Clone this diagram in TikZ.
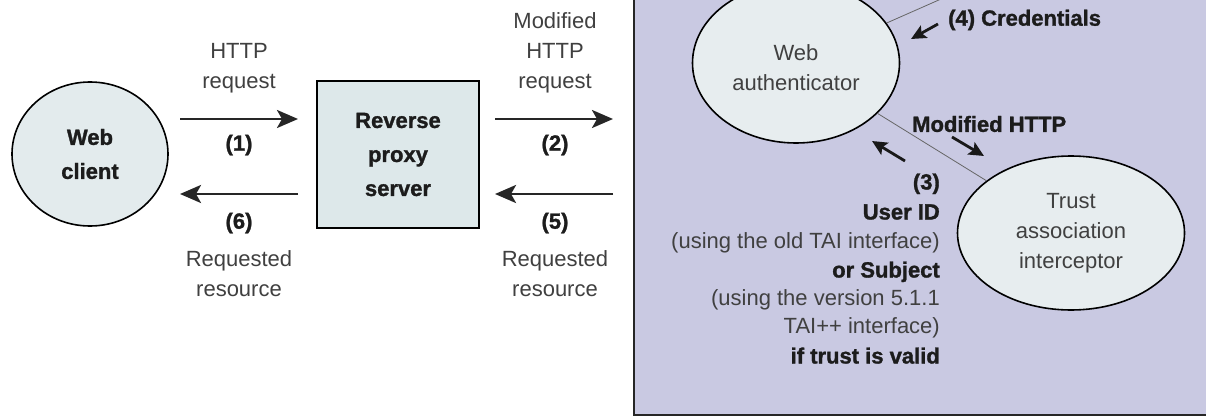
\documentclass[tikz,border=0pt]{standalone}
\usepackage{fontspec}
\setmainfont{Liberation Sans}[BoldFeatures={FakeBold=1.3}]
\usetikzlibrary{shapes.geometric,arrows.meta}
\definecolor{clientfill}{HTML}{E3EBED}
\definecolor{proxyfill}{HTML}{DDE8EA}
\definecolor{authfill}{HTML}{E7EDEF}
\definecolor{lav}{HTML}{C9C9E2}
\definecolor{textgray}{HTML}{404040}
\definecolor{textdark}{HTML}{1C1C1C}
\begin{document}
\begin{tikzpicture}[x=1pt,y=-1pt,
  txt/.style={font=\fontsize{22}{30}\selectfont, text=textgray, align=center, inner sep=0pt},
  btxt/.style={font=\fontsize{22}{34}\selectfont\bfseries, text=textdark, align=center, inner sep=0pt},
  rtxt/.style={font=\fontsize{22}{30}\selectfont, text=textgray, anchor=base east, inner sep=0pt},
  rbtxt/.style={font=\fontsize{22}{30}\selectfont\bfseries, text=textdark, anchor=base east, inner sep=0pt},
  bigarrow/.style={line width=2.8pt, draw=black!85, -{Stealth[length=21pt,width=18pt,inset=5pt]}},
  smallarrow/.style={line width=2.8pt, draw=black!90, -{Stealth[length=15pt,width=14pt,inset=3pt]}},
  thinline/.style={draw=black!60, line width=0.8pt},
  oval/.style={ellipse, draw=black, line width=1.6pt, inner sep=0pt}]
\useasboundingbox (0,0) rectangle (1206,417);
\fill[white] (0,0) rectangle (1206,417);
\begin{scope}
\clip (0,0) rectangle (1206,417);
\node[draw=black!85, fill=lav, line width=2pt, rectangle, minimum width=600pt, minimum height=460pt, anchor=south west, inner sep=0pt] (realm) at (633,415.5) {};
\end{scope}
% nodes
\node[oval, fill=clientfill, minimum width=156pt, minimum height=144pt, btxt] (client) at (90,154) {Web\\client};
\node[rectangle, draw=black, line width=1.6pt, fill=proxyfill, minimum width=162pt, minimum height=147pt, btxt] (proxy) at (398,154.5) {Reverse\\proxy\\server};
\node[oval, fill=authfill, minimum width=207pt, minimum height=160pt, txt] (auth) at (796,63) {\\[-4pt]Web\\authenticator};
\node[oval, fill=authfill, minimum width=227pt, minimum height=154pt, txt] (trust) at (1071,233) {Trust\\association\\interceptor};
% left arrows
\coordinate (a1s) at (180,119); \coordinate (a1e) at (298,119);
\coordinate (a6s) at (298,194); \coordinate (a6e) at (180,194);
\coordinate (a2s) at (495,119); \coordinate (a2e) at (613,119);
\coordinate (a5s) at (613,194); \coordinate (a5e) at (495,194);
\draw[bigarrow] (a1s) -- (a1e);
\draw[bigarrow] (a6s) -- (a6e);
\draw[bigarrow] (a2s) -- (a2e);
\draw[bigarrow] (a5s) -- (a5e);
\node[txt] (l1) at (239,68) {HTTP\\request};
\node[btxt] (n1) at (239,145) {(1)};
\node[btxt] (n6) at (239,223) {(6)};
\node[txt] (l6) at (239,274) {Requested\\resource};
\node[txt] (l2) at (555,53) {Modified\\HTTP\\request};
\node[btxt] (n2) at (555,145) {(2)};
\node[btxt] (n5) at (555,223) {(5)};
\node[txt] (l5) at (555,274) {Requested\\resource};
% thin lines
\coordinate (off) at (1000,-27);
\draw[thinline] (auth) -- (off);
\draw[thinline] (auth) -- (trust);
% small arrows
\coordinate (c4s) at (938,24); \coordinate (c4e) at (911,39);
\coordinate (mhs) at (952,137); \coordinate (mhe) at (984,156);
\coordinate (c3s) at (905,161); \coordinate (c3e) at (872,141);
\draw[smallarrow] (c4s) -- (c4e);
\draw[smallarrow] (mhs) -- (mhe);
\draw[smallarrow] (c3s) -- (c3e);
\node[btxt, anchor=west] (cred) at (948,20) {(4) Credentials};
\node[btxt, anchor=west] (modh) at (912,124) {Modified HTTP};
% right-aligned block
\node[rbtxt] (r1) at (940,189.5) {(3)};
\node[rbtxt] (r2) at (940,219.5) {User ID};
\node[rtxt] (r3) at (940,248.5) {(using the old TAI interface)};
\node[rbtxt] (r4) at (940,277.5) {or Subject};
\node[rtxt] (r5) at (940,305) {(using the version 5.1.1};
\node[rtxt] (r6) at (940,333) {TAI++ interface)};
\node[rbtxt] (r7) at (940,363.5) {if trust is valid};
\end{tikzpicture}
\end{document}
